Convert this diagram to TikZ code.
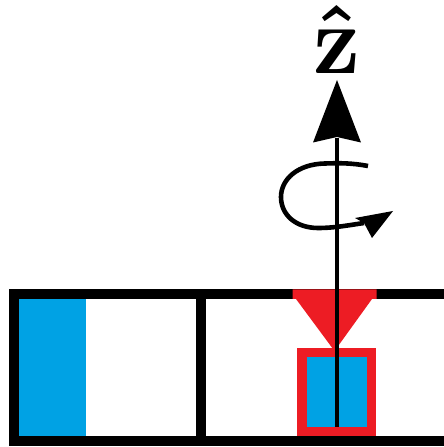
\documentclass[tikz,border=0pt]{standalone}
\usepackage{tikz}
\definecolor{cblue}{RGB}{0,162,228}
\definecolor{cred}{RGB}{237,28,36}
\tikzset{
  frame/.style={line width=10pt, draw=black},
  thin/.style={line width=4.6pt, draw=black},
}
\begin{document}
\begin{tikzpicture}[x=1pt,y=1pt]
\useasboundingbox (0,0) rectangle (444,447);
\begin{scope}
\clip (0,0) rectangle (444,447);
% left blue
\fill[cblue] (18.3,11) rectangle (86,147.7);
% red box
\fill[cred] (297.3,11) rectangle (376,98.7);
\fill[cblue] (306.7,20.3) rectangle (367.3,89.7);
% frame
\draw[frame] (13.7,152.7) -- (460,152.7);
\draw[frame] (13.7,6) -- (460,6);
\draw[frame] (13.7,1) -- (13.7,157.7);
\draw[frame] (200.8,6) -- (200.8,152.7);
% red funnel
\fill[cred] (292.7,157.7) -- (376.7,157.7) -- (376.7,148) -- (372,148) -- (334.5,96) -- (296,148) -- (292.7,148) -- cycle;
\end{scope}
% axis
\coordinate (ab) at (337,20.3);
\coordinate (at) at (337,367);
\coordinate (an) at (337,309);
\draw[thin] (ab) -- (an);
\fill (at) -- (361,304.5) -- (337,310) -- (313,304.5) -- cycle;
% rotation
\coordinate (r0) at (368,281);
\coordinate (r1) at (281,250);
\coordinate (r2) at (318,219);
\coordinate (rn) at (364,224);
\draw[thin] (r0) .. controls (352,284) and (340,284) .. (325,283.5)
  .. controls (298,283) and (281,268) .. (r1)
  .. controls (281,232) and (296,219) .. (r2)
  .. controls (335,219) and (350,222) .. (rn);
\fill (393,236) -- (355,229) -- (364,224) -- (372,209) -- cycle;
% label
\node[inner sep=0pt, anchor=base] (lab) at (337,373.5) {\scalebox{9.2}[9.8]{\boldmath$\hat{\mathbf{z}}$}};
\end{tikzpicture}
\end{document}
